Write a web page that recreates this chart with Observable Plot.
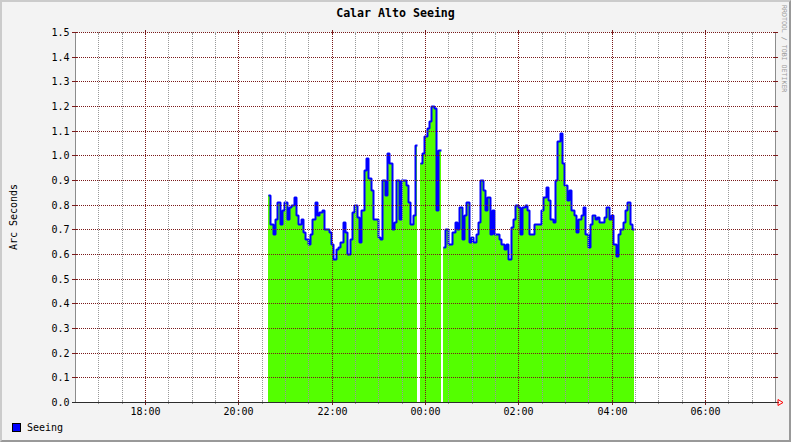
<!DOCTYPE html>
<html><head><meta charset="utf-8">
<script src="https://cdn.jsdelivr.net/npm/d3@7"></script>
<script src="https://cdn.jsdelivr.net/npm/@observablehq/plot@0.6"></script>
<style>
html,body{margin:0;padding:0;background:#fff;}
#wrap{position:relative;width:791px;height:442px;background:#F3F3F3;font-family:"DejaVu Sans Mono",monospace;overflow:hidden;color:#000;}
#wrap svg{position:absolute;left:0;top:0;}
#border{position:absolute;left:0;top:0;width:791px;height:442px;box-sizing:border-box;border-top:2px solid #CBCBCB;border-left:2px solid #CBCBCB;border-bottom:2px solid #999;border-right:2px solid #999;pointer-events:none;}
#title{position:absolute;left:0;top:6px;width:791px;text-align:center;font-size:11.6px;font-weight:bold;}
#ytitle{position:absolute;left:13px;top:217px;font-size:10px;white-space:nowrap;transform:translate(-50%,-50%) rotate(-90deg);}
#credit{position:absolute;left:780px;top:5px;font-size:6.6px;color:#9A9A9A;writing-mode:vertical-rl;white-space:nowrap;}
#legend{position:absolute;left:12px;top:422px;font-size:10px;display:flex;align-items:center;}
#legend .sw{width:7px;height:7px;background:#0000FF;border:1px solid #000;margin-right:6px;}
</style></head>
<body>
<div id="wrap">
  <div id="title">Calar Alto Seeing</div>
  <div id="ytitle">Arc Seconds</div>
  <div id="credit">RRDTOOL / TOBI OETIKER</div>
  <div id="legend"><span class="sw"></span><span>Seeing</span></div>
</div>
<script>
// ---- data ----
const titleText = "Calar Alto Seeing";
const seriesName = "Seeing";
const xDomainLabels = ["16:30", "07:30"];   // time window shown
const startTime = "20:38";                  // first sample
const stepMinutes = 3;                      // sample interval
const seeing = [
  0.84,0.72,0.68,0.74,0.81,0.72,0.78,0.81,0.74,0.79,
  0.80,0.83,0.76,0.72,0.74,0.69,0.66,0.64,0.68,0.74,
  0.81,0.76,0.77,0.78,0.70,0.70,0.69,0.64,0.58,0.62,
  0.63,0.65,0.73,0.69,0.60,0.66,0.77,0.80,0.75,0.65,
  0.78,0.94,0.99,0.91,0.86,0.74,0.74,0.67,0.66,0.90,
  0.84,1.01,0.97,0.70,0.73,0.90,0.74,0.90,0.90,0.88,
  0.81,0.72,0.76,1.04,null,0.97,1.01,1.08,1.11,1.14,
  1.20,1.19,0.78,1.02,null,0.63,0.70,0.64,0.64,0.69,
  0.73,0.70,0.79,0.66,0.76,0.81,0.65,0.67,0.65,0.68,
  0.73,0.90,0.86,0.78,0.83,0.68,0.78,0.68,0.68,0.66,
  0.64,0.62,0.64,0.58,0.71,0.74,0.80,0.79,0.68,0.79,
  0.80,0.78,0.68,0.68,0.72,0.72,0.72,0.78,0.83,0.87,
  0.82,0.74,0.73,0.90,1.06,1.09,0.97,0.88,0.82,0.86,
  0.78,0.76,0.69,0.74,0.76,0.79,0.68,0.63,0.72,0.76,
  0.74,0.75,0.73,0.73,0.75,0.79,0.74,0.76,0.64,0.59,
  0.68,0.70,0.73,0.78,0.81,0.72,0.70
];
const yTicks = [0.0,0.1,0.2,0.3,0.4,0.5,0.6,0.7,0.8,0.9,1.0,1.1,1.2,1.3,1.4,1.5];
const majorEveryHours = 2;
const minorEveryMinutes = 30;

// ---- build ----
function at(hhmm){ const [h,m]=hhmm.split(":").map(Number); return new Date(2024,0,h<12?2:1,h,m); }
const x0 = at(xDomainLabels[0]), x1 = at(xDomainLabels[1]);
const t0 = at(startTime);
const pts = [];
seeing.forEach((v,i)=>{
  const a = new Date(+t0 + i*stepMinutes*60000), b = new Date(+a + stepMinutes*60000);
  if (v == null) { pts.push({t:a, v:NaN}); }
  else { pts.push({t:a, v}); pts.push({t:b, v}); }
});
const major = d3.timeHour.every(majorEveryHours).range(x0, x1);
const minor = d3.timeMinute.every(minorEveryMinutes).range(x0, x1).filter(d => +d > +x0 && !major.some(m => +m === +d));
const GRID = "#999999", MGRID = "#7A1A1A";

const plot = Plot.plot({
  width: 791, height: 442,
  marginLeft: 75, marginRight: 16, marginTop: 32, marginBottom: 40,
  style: {background:"transparent", fontFamily:'"DejaVu Sans Mono", monospace', fontSize:"10px", color:"#000"},
  x: {type:"time", domain:[x0, x1], round:true},
  y: {domain:[0, 1.5], round:true},
  marks: [
    Plot.frame({fill:"white", stroke:"none"}),
    Plot.areaY(pts, {x:"t", y1:0, y2:"v", fill:"#54FF00"}),
    Plot.lineY(pts, {x:"t", y:"v", stroke:"#0000FF", strokeWidth:2, strokeLinejoin:"miter", strokeLinecap:"butt"}),
    Plot.ruleX(minor, {stroke:GRID, strokeDasharray:"1,1", shapeRendering:"crispEdges"}),
    Plot.ruleX(major, {stroke:MGRID, strokeDasharray:"1,1", shapeRendering:"crispEdges"}),
    Plot.ruleY(yTicks.filter(d => d > 0), {stroke:MGRID, strokeDasharray:"1,1", shapeRendering:"crispEdges"}),
    Plot.ruleX([x0, x1], {stroke:"#8C8C8C", shapeRendering:"crispEdges"}),
    Plot.axisY({ticks: yTicks, tickFormat: d => d.toFixed(1), tickSize:0, tickPadding:6, label:null}),
    Plot.axisX({ticks: major, tickFormat: d3.timeFormat("%H:%M"), tickSize:0, tickPadding:5, label:null})
  ]
});
const wrap = document.getElementById("wrap");
wrap.insertBefore(plot, wrap.firstChild);
const border = document.createElement("div"); border.id = "border"; wrap.appendChild(border);

// decorations: tick marks, x axis line and arrow
const sx = plot.scale("x"), sy = plot.scale("y");
const g = d3.select(plot).append("g").attr("shape-rendering","crispEdges");
const L = sx.apply(x0), R = sx.apply(x1), B = sy.apply(0), T = sy.apply(1.5);
yTicks.forEach(v => {
  const y = Math.round(sy.apply(v)) + 0.5;
  g.append("line").attr("x1",L-3).attr("x2",L+2).attr("y1",y).attr("y2",y).attr("stroke",MGRID);
  g.append("line").attr("x1",R-2).attr("x2",R+3).attr("y1",y).attr("y2",y).attr("stroke",MGRID);
});
major.forEach(d => {
  const x = Math.round(sx.apply(d)) + 0.5;
  g.append("line").attr("x1",x).attr("x2",x).attr("y1",B-2).attr("y2",B+3).attr("stroke",MGRID);
  g.append("line").attr("x1",x).attr("x2",x).attr("y1",T-2).attr("y2",T+2).attr("stroke",MGRID);
});
minor.forEach(d => {
  const x = Math.round(sx.apply(d)) + 0.5;
  g.append("line").attr("x1",x).attr("x2",x).attr("y1",B-1).attr("y2",B+2).attr("stroke",GRID);
  g.append("line").attr("x1",x).attr("x2",x).attr("y1",T).attr("y2",T+2).attr("stroke",GRID);
});
const yb = Math.round(B) + 0.5;
g.append("line").attr("x1",L-3).attr("x2",R+4).attr("y1",yb).attr("y2",yb).attr("stroke","#2C2C2C");
g.append("path").attr("d",`M${R+3},${yb-3}L${R+8},${yb}L${R+3},${yb+3}Z`).attr("fill","none").attr("stroke","#FF0000").attr("shape-rendering","auto");
</script>
</body></html>
